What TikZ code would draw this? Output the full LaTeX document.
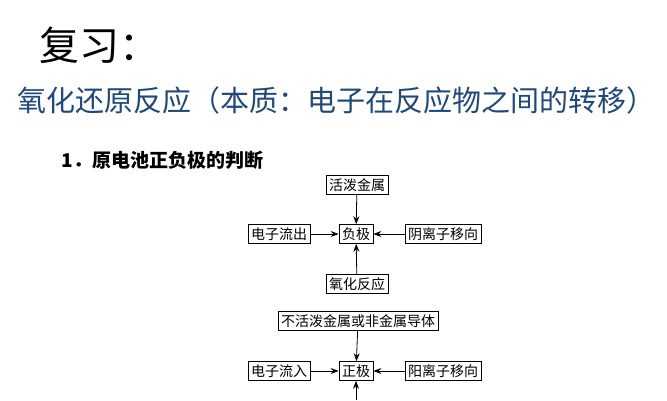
\documentclass[tikz,border=0pt]{standalone}
\usepackage{fontspec}
\setmainfont{Noto Sans CJK SC}
\usetikzlibrary{positioning}
\usetikzlibrary{arrows.meta}
\definecolor{titleblue}{RGB}{31,73,125}

\begin{document}
\begin{tikzpicture}[
  x=1pt, y=-1pt,
  box/.style = {draw, thick, inner sep=3pt, font=\fontsize{14}{14}\selectfont},
  link/.style = {thick, -{Stealth[scale=1.2]}},
]

  \useasboundingbox (0,0) rectangle (667,400);

  % headings
  \node[anchor=west, font=\fontsize{40}{40}\selectfont] (rev) at (36,45) {复习：};
  \node[anchor=west, font=\fontsize{29}{30}\selectfont, text=titleblue] (topic) at (14,100)
    {氧化还原反应（本质：电子在反应物之间的转移）};
  \node[anchor=west, font=\bfseries\fontsize{19}{20}\selectfont] (sub) at (58,160) {1．原电池正负极的判断};

  % negative electrode
  \node[box] (neg) at (356,234) {负极};
  \node[box] (active) at (357,185) {活泼金属};
  \node[box] (eout) at (279,234) {电子流出};
  \node[box] (anion) at (443,234) {阴离子移向};
  \node[box] (oxid) at (357,284) {氧化反应};

  \draw[link] (active) -- (neg);
  \draw[link] (eout) -- (neg);
  \draw[link] (anion) -- (neg);
  \draw[link] (oxid) -- (neg);

  % positive electrode
  \node[box] (pos) at (356,371) {正极};
  \node[box] (inert) at (358,321) {不活泼金属或非金属导体};
  \node[box] (ein) at (279,371) {电子流入};
  \node[box] (cation) at (443,371) {阳离子移向};
  \coordinate (below) at (356,400);

  \draw[link] (inert) -- (pos);
  \draw[link] (ein) -- (pos);
  \draw[link] (cation) -- (pos);
  \draw[link] (below) -- (pos);

\end{tikzpicture}
\end{document}
